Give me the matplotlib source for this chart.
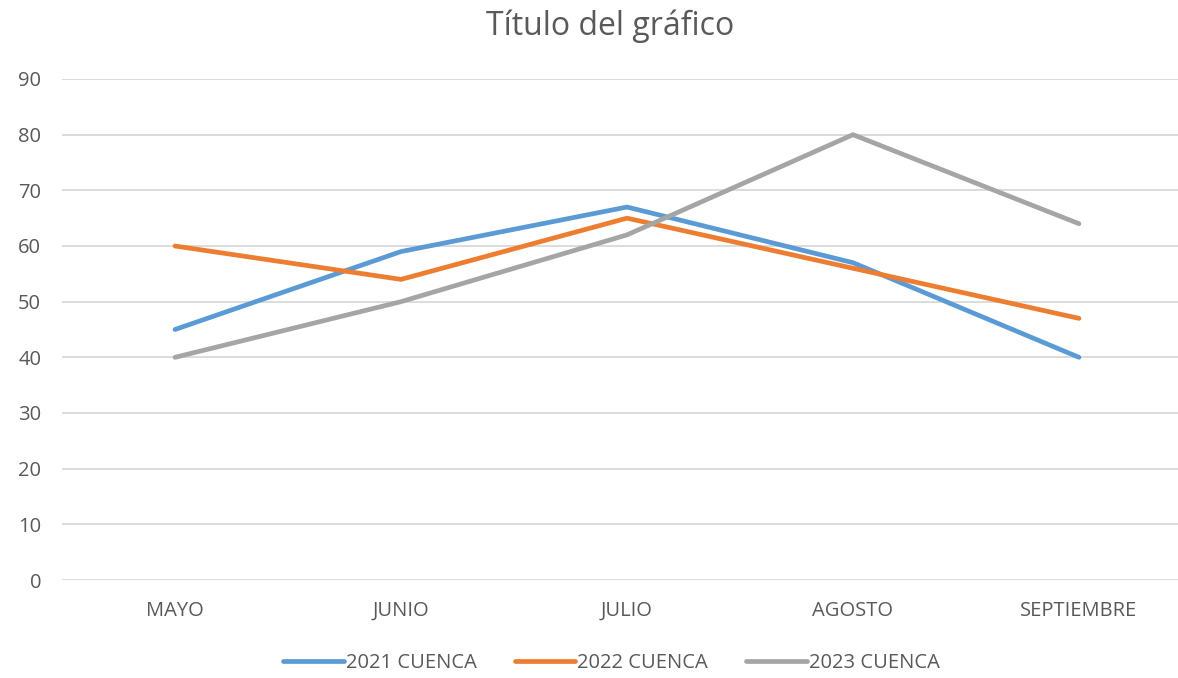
import matplotlib
matplotlib.use("Agg")
import matplotlib.pyplot as plt
import numpy as np

months = ["MAYO", "JUNIO", "JULIO", "AGOSTO", "SEPTIEMBRE"]
cuenca_2021 = [45, 59, 67, 57, 40]
cuenca_2022 = [60, 54, 65, 56, 47]
cuenca_2023 = [40, 50, 62, 80, 64]

plt.rcParams['font.family'] = ['Open Sans', 'DejaVu Sans']
text_color = "#595959"

fig = plt.figure(figsize=(11.78, 6.78), dpi=100)
ax = fig.add_axes([62 / 1178, 1 - 580 / 678, 1130 / 1178, (580 - 79) / 678])

x = np.arange(len(months))
ax.plot(x, cuenca_2021, color="#5B9BD5", lw=3.4, label="2021 CUENCA", solid_capstyle="round")
ax.plot(x, cuenca_2022, color="#ED7D31", lw=3.4, label="2022 CUENCA", solid_capstyle="round")
ax.plot(x, cuenca_2023, color="#A5A5A5", lw=3.4, label="2023 CUENCA", solid_capstyle="round")

ax.set_xlim(-0.5, 4.5)
ax.set_ylim(0, 90)
ax.set_yticks(range(0, 91, 10))
ax.set_xticks(x)
ax.set_xticklabels(months)
ax.grid(axis="y", color="#D9D9D9", lw=1.3)
ax.set_axisbelow(True)
for s in ax.spines.values():
    s.set_visible(False)
ax.tick_params(length=0, labelsize=14.5, labelcolor=text_color)
ax.tick_params(axis="x", pad=15)
ax.tick_params(axis="y", pad=15)

fig.text(0.518, 1 - 26 / 678, "Título del gráfico", ha="center", va="center",
         fontsize=23, color=text_color)

fig.legend(loc="center", bbox_to_anchor=(0.519, 1 - 663 / 678), ncol=3, frameon=False,
           fontsize=14.5, labelcolor=text_color, handlelength=3.0, handletextpad=0.1,
           columnspacing=1.9)

fig.savefig("out.png", dpi=100)
